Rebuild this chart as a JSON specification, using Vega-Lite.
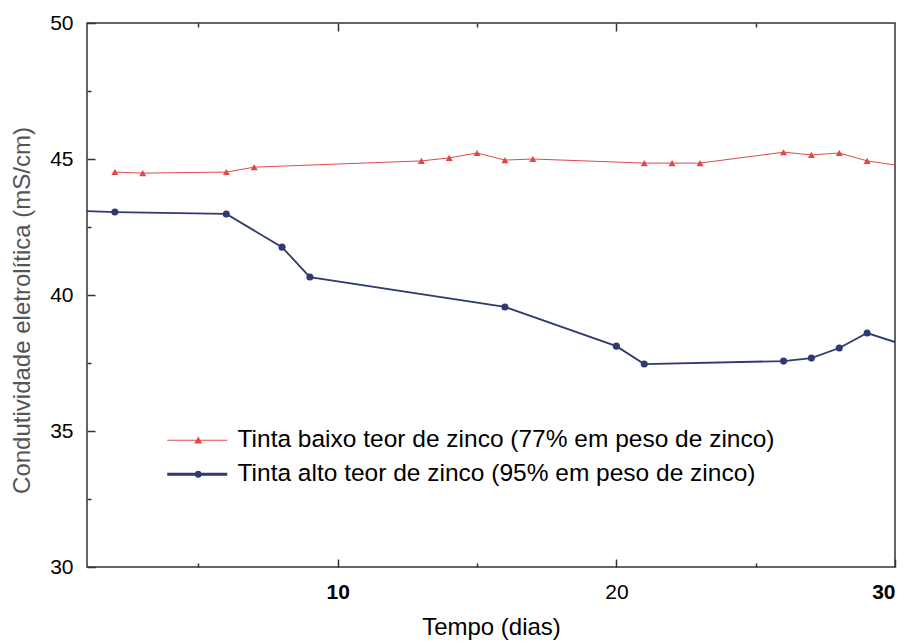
{
  "$schema": "https://vega.github.io/schema/vega-lite/v6.json",
  "width": 808,
  "height": 544,
  "autosize": "none",
  "padding": {"left": 87, "top": 23, "right": 15, "bottom": 75},
  "background": "white",
  "config": {
    "font": "Liberation Sans",
    "view": {"stroke": "#333333", "strokeWidth": 1.5}
  },
  "data": {
    "values": [
      {"dia": 2, "cond": 44.52, "serie": "Tinta baixo teor de zinco (77% em peso de zinco)"},
      {"dia": 3, "cond": 44.48, "serie": "Tinta baixo teor de zinco (77% em peso de zinco)"},
      {"dia": 6, "cond": 44.52, "serie": "Tinta baixo teor de zinco (77% em peso de zinco)"},
      {"dia": 7, "cond": 44.7, "serie": "Tinta baixo teor de zinco (77% em peso de zinco)"},
      {"dia": 13, "cond": 44.93, "serie": "Tinta baixo teor de zinco (77% em peso de zinco)"},
      {"dia": 14, "cond": 45.04, "serie": "Tinta baixo teor de zinco (77% em peso de zinco)"},
      {"dia": 15, "cond": 45.22, "serie": "Tinta baixo teor de zinco (77% em peso de zinco)"},
      {"dia": 16, "cond": 44.96, "serie": "Tinta baixo teor de zinco (77% em peso de zinco)"},
      {"dia": 17, "cond": 45.0, "serie": "Tinta baixo teor de zinco (77% em peso de zinco)"},
      {"dia": 21, "cond": 44.85, "serie": "Tinta baixo teor de zinco (77% em peso de zinco)"},
      {"dia": 22, "cond": 44.85, "serie": "Tinta baixo teor de zinco (77% em peso de zinco)"},
      {"dia": 23, "cond": 44.85, "serie": "Tinta baixo teor de zinco (77% em peso de zinco)"},
      {"dia": 26, "cond": 45.25, "serie": "Tinta baixo teor de zinco (77% em peso de zinco)"},
      {"dia": 27, "cond": 45.15, "serie": "Tinta baixo teor de zinco (77% em peso de zinco)"},
      {"dia": 28, "cond": 45.22, "serie": "Tinta baixo teor de zinco (77% em peso de zinco)"},
      {"dia": 29, "cond": 44.93, "serie": "Tinta baixo teor de zinco (77% em peso de zinco)"},
      {"dia": 30, "cond": 44.78, "serie": "Tinta baixo teor de zinco (77% em peso de zinco)"},
      {"dia": 1, "cond": 43.08, "serie": "Tinta alto teor de zinco (95% em peso de zinco)"},
      {"dia": 2, "cond": 43.05, "serie": "Tinta alto teor de zinco (95% em peso de zinco)"},
      {"dia": 6, "cond": 42.98, "serie": "Tinta alto teor de zinco (95% em peso de zinco)"},
      {"dia": 8, "cond": 41.76, "serie": "Tinta alto teor de zinco (95% em peso de zinco)"},
      {"dia": 9, "cond": 40.66, "serie": "Tinta alto teor de zinco (95% em peso de zinco)"},
      {"dia": 16, "cond": 39.56, "serie": "Tinta alto teor de zinco (95% em peso de zinco)"},
      {"dia": 20, "cond": 38.12, "serie": "Tinta alto teor de zinco (95% em peso de zinco)"},
      {"dia": 21, "cond": 37.46, "serie": "Tinta alto teor de zinco (95% em peso de zinco)"},
      {"dia": 26, "cond": 37.57, "serie": "Tinta alto teor de zinco (95% em peso de zinco)"},
      {"dia": 27, "cond": 37.68, "serie": "Tinta alto teor de zinco (95% em peso de zinco)"},
      {"dia": 28, "cond": 38.05, "serie": "Tinta alto teor de zinco (95% em peso de zinco)"},
      {"dia": 29, "cond": 38.6, "serie": "Tinta alto teor de zinco (95% em peso de zinco)"},
      {"dia": 30, "cond": 38.27, "serie": "Tinta alto teor de zinco (95% em peso de zinco)"}
    ]
  },
  "layer": [
    {
      "mark": {"type": "line", "clip": true},
      "encoding": {
        "x": {
          "field": "dia", "type": "quantitative",
          "scale": {"domain": [1, 30], "nice": false, "zero": false},
          "title": "Tempo (dias)",
          "axis": {
            "orient": "bottom",
            "values": [5, 10, 15, 20, 25, 30],
            "labelExpr": "datum.value % 10 === 0 ? datum.label : ''",
            "domain": false,
            "grid": false,
            "tickColor": "#333333",
            "tickWidth": 1.5,
            "tickSize": {"condition": {"test": "datum.value % 10 === 0", "value": -8}, "value": -4},
            "labelPadding": 22,
            "labelFontSize": 21,
            "labelColor": "#000000",
            "labelFontWeight": {"condition": {"test": "datum.value === 20", "value": "normal"}, "value": "bold"},
            "titleFontSize": 24,
            "titleFontWeight": "normal",
            "titleColor": "#000000",
            "titlePadding": 13
          }
        },
        "y": {
          "field": "cond", "type": "quantitative",
          "scale": {"domain": [30, 50], "nice": false, "zero": false},
          "title": "Condutividade eletrolítica (mS/cm)",
          "axis": {
            "values": [30, 32.5, 35, 37.5, 40, 42.5, 45, 47.5, 50],
            "labelExpr": "datum.value % 5 === 0 ? datum.label : ''",
            "domain": false,
            "grid": false,
            "tickColor": "#333333",
            "tickWidth": 1.5,
            "tickSize": {"condition": {"test": "datum.value % 5 === 0", "value": -8}, "value": -4},
            "labelPadding": 22,
            "labelFontSize": 21,
            "labelColor": "#000000",
            "titleFontSize": 24,
            "titleFontWeight": "normal",
            "titleColor": "#555555",
            "titlePadding": 15,
            "titleY": 287
          }
        },
        "color": {
          "field": "serie", "type": "nominal",
          "scale": {
            "domain": ["Tinta baixo teor de zinco (77% em peso de zinco)", "Tinta alto teor de zinco (95% em peso de zinco)"],
            "range": ["#e04848", "#2e3a70"]
          },
          "legend": null
        },
        "strokeWidth": {
          "field": "serie", "type": "nominal",
          "scale": {
            "domain": ["Tinta baixo teor de zinco (77% em peso de zinco)", "Tinta alto teor de zinco (95% em peso de zinco)"],
            "range": [1, 1.8]
          },
          "legend": null
        }
      }
    },
    {
      "transform": [{"filter": "datum.dia > 1 && datum.dia < 30"}],
      "mark": {"type": "point", "filled": true, "opacity": 1, "size": 50},
      "encoding": {
        "x": {
          "field": "dia", "type": "quantitative",
          "scale": {"domain": [1, 30], "nice": false, "zero": false},
          "axis": {
            "orient": "top",
            "values": [5, 10, 15, 20, 25],
            "labels": false,
            "title": null,
            "domain": false,
            "grid": false,
            "tickColor": "#333333",
            "tickWidth": 1.5,
            "tickSize": {"condition": {"test": "datum.value % 10 === 0", "value": -8}, "value": -4}
          }
        },
        "y": {"field": "cond", "type": "quantitative", "scale": {"domain": [30, 50], "nice": false, "zero": false}, "axis": null},
        "color": {
          "field": "serie", "type": "nominal",
          "scale": {
            "domain": ["Tinta baixo teor de zinco (77% em peso de zinco)", "Tinta alto teor de zinco (95% em peso de zinco)"],
            "range": ["#c82020", "#1c2a6a"]
          },
          "legend": null
        },
        "shape": {
          "field": "serie", "type": "nominal",
          "scale": {
            "domain": ["Tinta baixo teor de zinco (77% em peso de zinco)", "Tinta alto teor de zinco (95% em peso de zinco)"],
            "range": ["triangle-up", "circle"]
          },
          "legend": null
        }
      }
    },
    {
      "transform": [{"filter": "false"}],
      "mark": {"type": "point", "filled": true, "opacity": 1},
      "encoding": {
        "x": {"field": "dia", "type": "quantitative", "scale": {"domain": [1, 30], "nice": false, "zero": false}, "axis": null},
        "y": {"field": "cond", "type": "quantitative", "scale": {"domain": [30, 50], "nice": false, "zero": false}, "axis": null},
        "color": {
          "field": "serie", "type": "nominal",
          "scale": {
            "domain": ["Tinta baixo teor de zinco (77% em peso de zinco)", "Tinta alto teor de zinco (95% em peso de zinco)"],
            "range": ["#c82020", "#1c2a6a"]
          },
          "legend": {
            "title": null,
            "orient": "none",
            "legendX": 99,
            "legendY": 405,
            "padding": 0,
            "symbolSize": 144,
            "symbolStrokeWidth": 0,
            "symbolOpacity": 1,
            "labelFontSize": 24.5,
            "labelColor": "#000000",
            "labelOffset": 27,
            "labelLimit": 800,
            "rowPadding": 9
          }
        },
        "shape": {
          "field": "serie", "type": "nominal",
          "scale": {
            "domain": ["Tinta baixo teor de zinco (77% em peso de zinco)", "Tinta alto teor de zinco (95% em peso de zinco)"],
            "range": [
              "M-5.17,-0.08L4.83,-0.08L4.83,0.08L-5.17,0.08Z M-0.67,0.55L0,-0.62L0.67,0.55Z",
              "M-5.17,-0.25L4.83,-0.25L4.83,0.25L-5.17,0.25Z M-0.6,0A0.6,0.6 0 1,1 0.6,0A0.6,0.6 0 1,1 -0.6,0Z"
            ]
          },
          "legend": {
            "title": null,
            "orient": "none",
            "legendX": 99,
            "legendY": 405,
            "padding": 0,
            "symbolSize": 144,
            "symbolStrokeWidth": 0,
            "symbolOpacity": 1,
            "labelFontSize": 24.5,
            "labelColor": "#000000",
            "labelOffset": 27,
            "labelLimit": 800,
            "rowPadding": 9
          }
        }
      }
    }
  ],
  "resolve": {
    "axis": {"x": "independent", "y": "independent"},
    "legend": {"color": "independent", "shape": "independent"},
    "scale": {"shape": "independent"}
  }
}
